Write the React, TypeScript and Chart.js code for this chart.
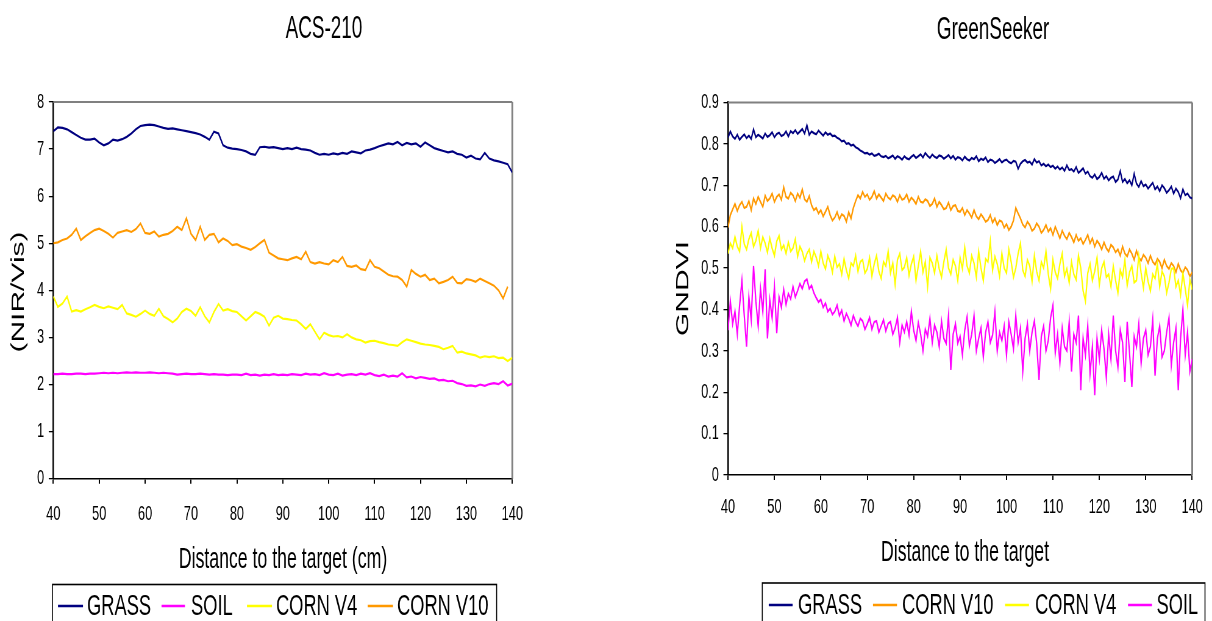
import React, { useEffect, useRef } from "react";
import { Chart, registerables } from "chart.js";

Chart.register(...registerables);

// ---------------- DATA ----------------
const X_MIN = 40;
const X_MAX = 140;
const X_TICK_STEP = 10;
const ACS_STEP = 1; // cm between ACS-210 readings
const GS_STEP = 0.5; // cm between GreenSeeker readings

// ACS-210 (NIR/Vis), 40..140 cm
const acsGrass = [
  7.38, 7.46, 7.45, 7.42, 7.36, 7.30, 7.24, 7.20, 7.20, 7.22,
  7.14, 7.08, 7.12, 7.20, 7.18, 7.21, 7.26, 7.33, 7.42, 7.49,
  7.51, 7.52, 7.51, 7.48, 7.45, 7.43, 7.44, 7.42, 7.40, 7.38,
  7.36, 7.34, 7.31, 7.26, 7.20, 7.37, 7.33, 7.08, 7.03, 7.01,
  7.00, 6.98, 6.95, 6.90, 6.88, 7.04, 7.05, 7.03, 7.04, 7.02,
  7.00, 7.02, 7.00, 7.03, 7.00, 6.99, 6.97, 6.92, 6.88, 6.90,
  6.88, 6.91, 6.89, 6.92, 6.90, 6.95, 6.93, 6.91, 6.97, 6.99,
  7.02, 7.06, 7.09, 7.12, 7.10, 7.15, 7.08, 7.13, 7.10, 7.12,
  7.05, 7.14, 7.08, 7.02, 6.99, 6.96, 6.93, 6.95, 6.90, 6.88,
  6.82, 6.86, 6.80, 6.78, 6.92, 6.80, 6.76, 6.74, 6.71, 6.68,
  6.50,
];
const acsSoil = [
  2.22, 2.22, 2.23, 2.22, 2.22, 2.23, 2.23, 2.22, 2.23, 2.23,
  2.24, 2.25, 2.24, 2.25, 2.24, 2.25, 2.26, 2.25, 2.26, 2.25,
  2.25, 2.26, 2.25, 2.24, 2.25, 2.24, 2.23, 2.21, 2.22, 2.23,
  2.22, 2.22, 2.23, 2.22, 2.21, 2.22, 2.21, 2.21, 2.20, 2.21,
  2.21, 2.20, 2.23, 2.20, 2.21, 2.19, 2.21, 2.20, 2.22, 2.20,
  2.21, 2.20, 2.22, 2.21, 2.20, 2.23, 2.21, 2.22, 2.20, 2.24,
  2.21, 2.20, 2.23, 2.19, 2.21, 2.22, 2.20, 2.23, 2.21, 2.24,
  2.20, 2.18, 2.21, 2.17, 2.19, 2.17, 2.24, 2.15, 2.17, 2.13,
  2.16, 2.14, 2.12, 2.13, 2.09, 2.10, 2.07, 2.08, 2.03, 2.01,
  1.97, 1.98, 1.96, 2.00, 1.97, 2.01, 2.03, 2.01, 2.07, 1.98,
  2.02,
];
const acsCornV4 = [
  3.87, 3.65, 3.72, 3.87, 3.55, 3.58, 3.55, 3.60, 3.64, 3.69,
  3.65, 3.62, 3.66, 3.63, 3.60, 3.69, 3.51, 3.48, 3.44, 3.50,
  3.57, 3.50, 3.46, 3.61, 3.45, 3.39, 3.32, 3.40, 3.54, 3.61,
  3.56, 3.46, 3.64, 3.45, 3.32, 3.54, 3.71, 3.57, 3.60, 3.56,
  3.54, 3.45, 3.36, 3.45, 3.54, 3.50, 3.44, 3.25, 3.42, 3.46,
  3.40, 3.39, 3.37, 3.36, 3.28, 3.18, 3.28, 3.12, 2.96, 3.10,
  3.05, 3.02, 3.03, 3.00, 3.07, 3.00, 2.96, 2.94, 2.89, 2.92,
  2.93, 2.90, 2.88, 2.85, 2.84, 2.82, 2.90, 2.96, 2.93, 2.90,
  2.87, 2.85, 2.84, 2.82, 2.80, 2.75, 2.78, 2.82, 2.68, 2.70,
  2.66, 2.64, 2.62, 2.57, 2.60, 2.58, 2.60, 2.56, 2.57, 2.50,
  2.57,
];
// ends at 139 cm
const acsCornV10 = [
  5.00, 5.02, 5.07, 5.10, 5.18, 5.31, 5.07, 5.15, 5.22, 5.28,
  5.31, 5.26, 5.20, 5.12, 5.22, 5.25, 5.28, 5.24, 5.30, 5.42,
  5.22, 5.20, 5.25, 5.14, 5.18, 5.20, 5.26, 5.35, 5.28, 5.53,
  5.20, 5.07, 5.35, 5.07, 5.18, 5.20, 5.02, 5.10, 5.05, 4.96,
  4.98, 4.93, 4.90, 4.86, 4.92, 5.00, 5.07, 4.80, 4.74, 4.68,
  4.66, 4.64, 4.68, 4.71, 4.66, 4.82, 4.60, 4.57, 4.60, 4.57,
  4.55, 4.64, 4.60, 4.71, 4.52, 4.50, 4.53, 4.45, 4.43, 4.64,
  4.50, 4.47, 4.40, 4.33, 4.30, 4.29, 4.22, 4.08, 4.43, 4.35,
  4.29, 4.33, 4.22, 4.25, 4.15, 4.18, 4.22, 4.29, 4.16, 4.15,
  4.24, 4.22, 4.18, 4.25, 4.20, 4.15, 4.10, 4.00, 3.83, 4.08,
];

// GreenSeeker (GNDVI), 40..140 cm every 0.5 cm
const gsGrass = [
  0.815, 0.830, 0.818, 0.812, 0.822, 0.810, 0.817, 0.823, 0.814, 0.820, 0.812, 0.835, 0.816, 0.822, 0.818, 0.813, 0.825, 0.817, 0.821, 0.828,
  0.816, 0.824, 0.827, 0.819, 0.822, 0.830, 0.818, 0.831, 0.826, 0.833, 0.824, 0.830, 0.836, 0.825, 0.845, 0.822, 0.830, 0.826, 0.823, 0.832,
  0.826, 0.820, 0.828, 0.822, 0.825, 0.819, 0.820, 0.815, 0.812, 0.806, 0.808, 0.800, 0.802, 0.796, 0.798, 0.792, 0.789, 0.784, 0.781, 0.777,
  0.778, 0.774, 0.777, 0.771, 0.773, 0.776, 0.770, 0.768, 0.771, 0.765, 0.768, 0.772, 0.764, 0.770, 0.767, 0.762, 0.770, 0.765, 0.763, 0.769,
  0.773, 0.766, 0.770, 0.775, 0.767, 0.778, 0.771, 0.766, 0.774, 0.769, 0.766, 0.772, 0.770, 0.764, 0.768, 0.773, 0.765, 0.771, 0.762, 0.768,
  0.766, 0.760, 0.769, 0.763, 0.760, 0.766, 0.763, 0.770, 0.758, 0.764, 0.761, 0.767, 0.756, 0.762, 0.760, 0.754, 0.758, 0.763, 0.755, 0.760,
  0.762, 0.756, 0.753, 0.759, 0.757, 0.740, 0.752, 0.758, 0.761, 0.755, 0.757, 0.750, 0.763, 0.755, 0.758, 0.748, 0.752, 0.746, 0.750, 0.744,
  0.747, 0.740, 0.745, 0.738, 0.743, 0.735, 0.748, 0.737, 0.739, 0.733, 0.744, 0.730, 0.735, 0.741, 0.728, 0.733, 0.722, 0.718, 0.726, 0.715,
  0.720, 0.730, 0.716, 0.722, 0.712, 0.718, 0.721, 0.708, 0.714, 0.734, 0.708, 0.715, 0.705, 0.712, 0.700, 0.728, 0.704, 0.696, 0.710, 0.698,
  0.702, 0.692, 0.699, 0.706, 0.690, 0.697, 0.686, 0.700, 0.693, 0.682, 0.688, 0.697, 0.680, 0.692, 0.684, 0.669, 0.690, 0.676, 0.680, 0.671,
  0.668,
];
const gsCornV10 = [
  0.598, 0.628, 0.642, 0.655, 0.638, 0.652, 0.660, 0.645, 0.648, 0.662, 0.640, 0.668, 0.655, 0.672, 0.660, 0.648, 0.675, 0.662, 0.668, 0.680,
  0.660, 0.672, 0.678, 0.665, 0.695, 0.672, 0.668, 0.682, 0.676, 0.662, 0.680, 0.670, 0.690, 0.666, 0.660, 0.674, 0.652, 0.640, 0.645, 0.632,
  0.640, 0.625, 0.636, 0.648, 0.628, 0.615, 0.622, 0.635, 0.618, 0.630, 0.626, 0.612, 0.635, 0.620, 0.645, 0.662, 0.676, 0.668, 0.684, 0.672,
  0.678, 0.665, 0.672, 0.686, 0.668, 0.678, 0.670, 0.662, 0.680, 0.670, 0.666, 0.676, 0.672, 0.660, 0.676, 0.665, 0.668, 0.678, 0.660, 0.670,
  0.664, 0.655, 0.672, 0.660, 0.658, 0.666, 0.662, 0.650, 0.655, 0.668, 0.648, 0.660, 0.652, 0.642, 0.645, 0.658, 0.640, 0.650, 0.652, 0.638,
  0.636, 0.645, 0.628, 0.640, 0.632, 0.622, 0.640, 0.625, 0.618, 0.630, 0.622, 0.612, 0.616, 0.628, 0.610, 0.620, 0.604, 0.615, 0.612, 0.598,
  0.606, 0.592, 0.600, 0.615, 0.645, 0.632, 0.620, 0.605, 0.598, 0.612, 0.604, 0.590, 0.595, 0.608, 0.600, 0.585, 0.592, 0.604, 0.588, 0.596,
  0.580, 0.600, 0.586, 0.572, 0.590, 0.578, 0.570, 0.585, 0.575, 0.562, 0.580, 0.566, 0.572, 0.558, 0.568, 0.580, 0.560, 0.572, 0.552, 0.566,
  0.558, 0.545, 0.562, 0.548, 0.540, 0.556, 0.550, 0.538, 0.545, 0.530, 0.552, 0.535, 0.528, 0.545, 0.535, 0.520, 0.542, 0.525, 0.518, 0.532,
  0.525, 0.512, 0.530, 0.515, 0.508, 0.522, 0.515, 0.500, 0.520, 0.505, 0.498, 0.512, 0.505, 0.490, 0.510, 0.495, 0.488, 0.502, 0.495, 0.480,
  0.490,
];
const gsCornV4 = [
  0.535, 0.560, 0.548, 0.575, 0.552, 0.540, 0.600, 0.558, 0.545, 0.570, 0.585, 0.552, 0.566, 0.590, 0.548, 0.575, 0.560, 0.538, 0.572, 0.548,
  0.530, 0.565, 0.578, 0.545, 0.555, 0.535, 0.562, 0.540, 0.548, 0.570, 0.528, 0.552, 0.540, 0.518, 0.535, 0.545, 0.515, 0.540, 0.526, 0.505,
  0.540, 0.512, 0.498, 0.530, 0.515, 0.490, 0.528, 0.502, 0.510, 0.485, 0.522, 0.495, 0.475, 0.512, 0.505, 0.530, 0.492, 0.515, 0.520, 0.488,
  0.498, 0.525, 0.480, 0.510, 0.530, 0.492, 0.475, 0.515, 0.505, 0.540, 0.488, 0.512, 0.460, 0.520, 0.535, 0.495, 0.502, 0.525, 0.482, 0.510,
  0.528, 0.470, 0.505, 0.540, 0.490, 0.515, 0.455, 0.525, 0.512, 0.488, 0.530, 0.498, 0.478, 0.515, 0.545, 0.500, 0.485, 0.520, 0.505, 0.470,
  0.525, 0.498, 0.550, 0.505, 0.488, 0.530, 0.512, 0.478, 0.540, 0.500, 0.470, 0.522, 0.515, 0.565, 0.495, 0.528, 0.510, 0.480, 0.535, 0.500,
  0.488, 0.545, 0.515, 0.478, 0.500, 0.535, 0.560, 0.495, 0.480, 0.520, 0.505, 0.468, 0.530, 0.492, 0.470, 0.515, 0.500, 0.540, 0.485, 0.450,
  0.520, 0.490, 0.475, 0.510, 0.535, 0.480, 0.498, 0.465, 0.515, 0.485, 0.472, 0.530, 0.500, 0.445, 0.420, 0.488, 0.510, 0.470, 0.492, 0.525,
  0.460, 0.500, 0.515, 0.478, 0.485, 0.455, 0.505, 0.470, 0.440, 0.495, 0.478, 0.520, 0.458, 0.490, 0.505, 0.465, 0.470, 0.530, 0.488, 0.452,
  0.500, 0.468, 0.445, 0.485, 0.475, 0.510, 0.455, 0.492, 0.480, 0.440, 0.465, 0.498, 0.500, 0.455, 0.470, 0.435, 0.488, 0.450, 0.410, 0.472,
  0.448,
];
const gsSoil = [
  0.350, 0.420, 0.365, 0.395, 0.340, 0.410, 0.470, 0.385, 0.310, 0.430, 0.375, 0.505, 0.420, 0.360, 0.450, 0.395, 0.497, 0.330, 0.424, 0.380,
  0.455, 0.343, 0.430, 0.405, 0.448, 0.412, 0.438, 0.425, 0.455, 0.430, 0.445, 0.462, 0.450, 0.468, 0.473, 0.450, 0.458, 0.440, 0.428, 0.418,
  0.424, 0.405, 0.415, 0.395, 0.402, 0.388, 0.395, 0.410, 0.385, 0.398, 0.372, 0.390, 0.378, 0.362, 0.385, 0.370, 0.360, 0.378, 0.372, 0.352,
  0.365, 0.380, 0.352, 0.370, 0.372, 0.345, 0.360, 0.375, 0.348, 0.366, 0.370, 0.340, 0.355, 0.380, 0.320, 0.362, 0.345, 0.370, 0.338, 0.395,
  0.350, 0.325, 0.368, 0.340, 0.300, 0.352, 0.335, 0.378, 0.320, 0.362, 0.345, 0.310, 0.372, 0.330, 0.318, 0.385, 0.254, 0.340, 0.365, 0.318,
  0.335, 0.290, 0.350, 0.382, 0.312, 0.340, 0.385, 0.300, 0.330, 0.355, 0.285, 0.345, 0.370, 0.320, 0.338, 0.395, 0.300, 0.345, 0.325, 0.360,
  0.290, 0.370, 0.340, 0.305, 0.385, 0.320, 0.355, 0.250, 0.330, 0.365, 0.300, 0.345, 0.372, 0.318, 0.230, 0.335, 0.360, 0.300, 0.325, 0.380,
  0.410, 0.295, 0.340, 0.270, 0.355, 0.310, 0.300, 0.370, 0.250, 0.340, 0.320, 0.385, 0.205, 0.330, 0.290, 0.360, 0.245, 0.310, 0.193, 0.330,
  0.280, 0.350, 0.305, 0.235, 0.340, 0.280, 0.385, 0.300, 0.260, 0.350, 0.320, 0.225, 0.370, 0.295, 0.213, 0.335, 0.310, 0.365, 0.270, 0.330,
  0.350, 0.290, 0.310, 0.375, 0.240, 0.330, 0.360, 0.285, 0.300, 0.345, 0.380, 0.265, 0.320, 0.355, 0.205, 0.330, 0.400, 0.290, 0.345, 0.250,
  0.280,
];

const COLORS = {
  grass: "#000080",
  soil: "#FF00FF",
  cornV4: "#FFFF00",
  cornV10: "#FF9900",
};

// ---------------- LAYOUT ----------------
// Each panel is drawn on a wider canvas that the browser squeezes horizontally
// (the reference picture is horizontally compressed).
const CANVAS_W = 994;
const CANVAS_H = 621;
const CSS_W = 606;
const FONT = '"Liberation Sans", Arial, Helvetica, sans-serif';
const TICK_FONT_SIZE = 21;

type Series = { label: string; color: string; values: number[] };
type PanelLayout = {
  chartLeft: number;
  chartRight: number;
  chartTop: number;
  chartBottom: number;
  titleX: number;
  titleY: number;
  xTitleX: number;
  xTitleY: number;
  yTitleX: number;
  yTitleY: number;
  legendLeft: number;
  legendTop: number;
  legendRight: number;
  legendLineY: number;
  legendTextY: number;
  legendItems: [number, number, number][]; // lineStart, lineEnd, textStart
  xTickPad: number;
};
type PanelSpec = {
  title: string;
  xTitle: string;
  yTitle: string;
  yMax: number;
  yStep: number;
  step: number;
  series: Series[];
  L: PanelLayout;
};

const acsPanel: PanelSpec = {
  title: "ACS-210",
  xTitle: "Distance to the target (cm)",
  yTitle: "(NIR/Vis)",
  yMax: 8,
  yStep: 1,
  step: ACS_STEP,
  series: [
    { label: "GRASS", color: COLORS.grass, values: acsGrass },
    { label: "SOIL", color: COLORS.soil, values: acsSoil },
    { label: "CORN V4", color: COLORS.cornV4, values: acsCornV4 },
    { label: "CORN V10", color: COLORS.cornV10, values: acsCornV10 },
  ],
  L: {
    chartLeft: 87.4,
    chartRight: 840.3,
    chartTop: 102,
    chartBottom: 478.7,
    titleX: 531.4,
    titleY: 37.5,
    xTitleX: 464.2,
    xTitleY: 568,
    yTitleX: 30.3,
    yTitleY: 292,
    legendLeft: 86,
    legendTop: 584.5,
    legendRight: 814.6,
    legendLineY: 606,
    legendTextY: 615,
    legendItems: [
      [95.1, 136.1, 142.7],
      [264.9, 303.4, 313.3],
      [405.1, 446.1, 452.7],
      [603, 644.6, 651.2],
    ],
    xTickPad: 18,
  },
};

const gsPanel: PanelSpec = {
  title: "GreenSeeker",
  xTitle: "Distance to the target",
  yTitle: "GNDVI",
  yMax: 0.9,
  yStep: 0.1,
  step: GS_STEP,
  series: [
    { label: "GRASS", color: COLORS.grass, values: gsGrass },
    { label: "CORN V10", color: COLORS.cornV10, values: gsCornV10 },
    { label: "CORN V4", color: COLORS.cornV4, values: gsCornV4 },
    { label: "SOIL", color: COLORS.soil, values: gsSoil },
  ],
  L: {
    chartLeft: 200.1,
    chartRight: 971.5,
    chartTop: 102.5,
    chartBottom: 475,
    titleX: 634.8,
    titleY: 38.5,
    xTitleX: 588.9,
    xTitleY: 561,
    yTitleX: 126.3,
    yTitleY: 288.5,
    legendLeft: 256.3,
    legendTop: 583,
    legendRight: 982.5,
    legendLineY: 605,
    legendTextY: 614,
    legendItems: [
      [266.9, 306.1, 314.9],
      [437.9, 477.3, 485.5],
      [654.5, 693.8, 703.7],
      [856.2, 895.6, 902.9],
    ],
    xTickPad: 15,
  },
};

function toPoints(values: number[], step: number) {
  return values.map((v, i) => ({ x: X_MIN + i * step, y: v }));
}

function makeDecor(spec: PanelSpec) {
  const L = spec.L;
  return {
    id: "decor",
    beforeDatasetsDraw(chart: any) {
      const { ctx, chartArea } = chart;
      ctx.save();
      ctx.strokeStyle = "#808080";
      ctx.lineWidth = 2;
      ctx.beginPath();
      ctx.moveTo(chartArea.left, chartArea.top);
      ctx.lineTo(chartArea.right, chartArea.top);
      ctx.stroke();
      ctx.lineWidth = 3;
      ctx.beginPath();
      ctx.moveTo(chartArea.right, chartArea.top);
      ctx.lineTo(chartArea.right, chartArea.bottom);
      ctx.stroke();
      ctx.restore();
    },
    afterDraw(chart: any) {
      const { ctx } = chart;
      ctx.save();
      ctx.fillStyle = "#000";
      // chart title
      ctx.font = `31px ${FONT}`;
      ctx.textAlign = "center";
      ctx.textBaseline = "alphabetic";
      ctx.fillText(spec.title, L.titleX, L.titleY);
      // x axis title
      ctx.font = `29px ${FONT}`;
      ctx.fillText(spec.xTitle, L.xTitleX, L.xTitleY);
      // y axis title
      ctx.save();
      ctx.translate(L.yTitleX, L.yTitleY);
      ctx.rotate(-Math.PI / 2);
      ctx.font = `30px ${FONT}`;
      ctx.textBaseline = "middle";
      ctx.fillText(spec.yTitle, 0, 0);
      ctx.restore();
      // legend box
      ctx.strokeStyle = "#000";
      ctx.lineWidth = 1.6;
      ctx.strokeRect(L.legendLeft, L.legendTop, L.legendRight - L.legendLeft, 80);
      ctx.font = `30px ${FONT}`;
      ctx.textAlign = "left";
      ctx.textBaseline = "alphabetic";
      chart.data.datasets.forEach((ds: any, i: number) => {
        const it = L.legendItems[i];
        if (!it) return;
        ctx.strokeStyle = ds.borderColor;
        ctx.lineWidth = 2.5;
        ctx.beginPath();
        ctx.moveTo(it[0], L.legendLineY);
        ctx.lineTo(it[1], L.legendLineY);
        ctx.stroke();
        ctx.fillStyle = "#000";
        ctx.fillText(ds.label, it[2], L.legendTextY);
      });
      ctx.restore();
    },
  };
}

function buildConfig(spec: PanelSpec): any {
  const L = spec.L;
  const n = spec.series.length;
  return {
    type: "line",
    data: {
      datasets: spec.series.map((s, i) => ({
        label: s.label,
        data: toPoints(s.values, spec.step),
        borderColor: s.color,
        backgroundColor: s.color,
        borderWidth: 2.2,
        pointRadius: 0,
        tension: 0,
        fill: false,
        order: n - i,
      })),
    },
    options: {
      responsive: false,
      devicePixelRatio: 1,
      animation: false,
      events: [],
      layout: {
        padding: { left: 0, top: L.chartTop, right: CANVAS_W - L.chartRight, bottom: 0 },
      },
      plugins: {
        legend: { display: false },
        title: { display: false },
        tooltip: { enabled: false },
      },
      scales: {
        x: {
          type: "linear",
          min: X_MIN,
          max: X_MAX,
          afterFit: (s: any) => {
            s.height = CANVAS_H - L.chartBottom;
          },
          ticks: {
            stepSize: X_TICK_STEP,
            autoSkip: false,
            maxRotation: 0,
            color: "#000",
            font: { family: FONT, size: TICK_FONT_SIZE },
            padding: L.xTickPad,
          },
          grid: {
            display: true,
            drawOnChartArea: false,
            drawTicks: true,
            tickLength: 5,
            color: "#000",
            tickColor: "#000",
            lineWidth: 2,
          },
          border: { display: true, color: "#000", width: 1.5 },
        },
        y: {
          type: "linear",
          min: 0,
          max: spec.yMax,
          afterFit: (s: any) => {
            s.width = L.chartLeft;
          },
          ticks: {
            stepSize: spec.yStep,
            color: "#000",
            font: { family: FONT, size: TICK_FONT_SIZE },
            padding: 7.5,
          },
          grid: {
            display: true,
            drawOnChartArea: false,
            drawTicks: true,
            tickLength: 7.5,
            color: "#000",
            tickColor: "#000",
            lineWidth: 1.3,
          },
          border: { display: true, color: "#000", width: 2.5 },
        },
      },
    },
    plugins: [makeDecor(spec)],
  };
}

function Panel({ spec, left }: { spec: PanelSpec; left: number }) {
  const ref = useRef<HTMLCanvasElement | null>(null);
  useEffect(() => {
    const canvas = ref.current;
    if (!canvas) return;
    const chart = new Chart(canvas, buildConfig(spec));
    return () => chart.destroy();
  }, [spec]);
  return (
    <canvas
      ref={ref}
      width={CANVAS_W}
      height={CANVAS_H}
      style={{ position: "absolute", left, top: 0, width: CSS_W, height: CANVAS_H }}
    />
  );
}

export default function App() {
  return (
    <div
      style={{
        position: "fixed",
        left: 0,
        top: 0,
        width: 1212,
        height: 621,
        background: "#fff",
        overflow: "hidden",
      }}
    >
      <Panel spec={acsPanel} left={0} />
      <Panel spec={gsPanel} left={606} />
    </div>
  );
}
